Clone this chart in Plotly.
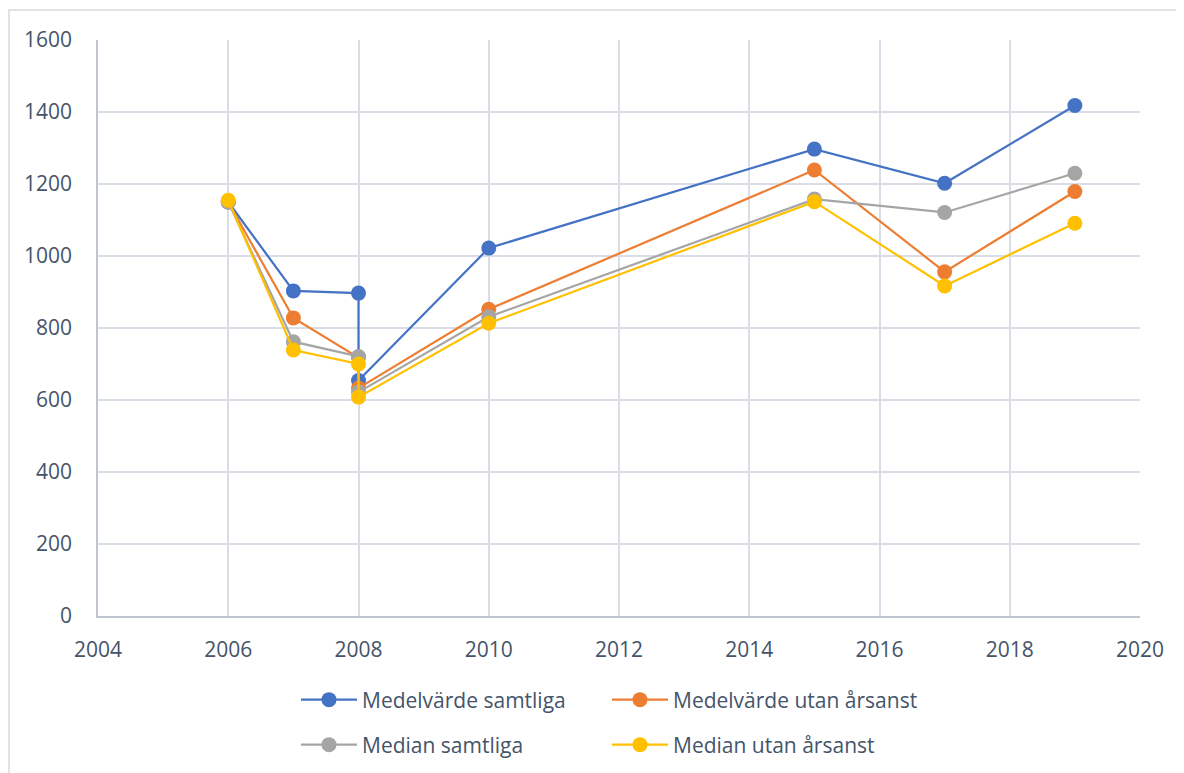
import plotly.graph_objects as go

years = [2006, 2007, 2008, 2008, 2010, 2015, 2017, 2019]
series_names = ["Medelvärde samtliga", "Medelvärde utan årsanst", "Median samtliga", "Median utan årsanst"]
medel_samtliga = [1150, 903, 897, 654, 1022, 1297, 1202, 1418]
medel_utan = [1150, 828, 718, 633, 852, 1239, 956, 1179]
median_samtliga = [1150, 762, 721, 622, 831, 1158, 1121, 1230]
median_utan = [1155, 739, 700, 608, 813, 1151, 917, 1091]
colors = ["#4472C4", "#ED7D31", "#A5A5A5", "#FFC000"]

x_ticks = list(range(2004, 2021, 2))
y_ticks = list(range(0, 1601, 200))

# page offset from default body margin (8px)
OFF = 8
W, H = 1184 - OFF, 773 - OFF
L, T, R, B = 98 - OFF, 40 - OFF, 44, 157
PW, PH = W - L - R, H - T - B

def px_x(page_x):
    return (page_x - OFF - L) / PW

def px_y(page_y):
    return (H - B - (page_y - OFF)) / PH

fig = go.Figure()
legends = ["legend", "legend", "legend2", "legend2"]
for name, vals, c, lg in zip(series_names, [medel_samtliga, medel_utan, median_samtliga, median_utan], colors, legends):
    fig.add_trace(go.Scatter(
        x=years, y=vals, name=name, mode="lines+markers",
        line=dict(color=c, width=2.2),
        marker=dict(color=c, size=15),
        legend=lg,
    ))

font_color = "#44546A"
leg_common = dict(
    orientation="h", xanchor="left", yanchor="middle",
    entrywidth=240, entrywidthmode="pixels", itemwidth=56,
    font=dict(size=21, color=font_color), bgcolor="rgba(0,0,0,0)",
)
fig.update_layout(
    width=W, height=H,
    paper_bgcolor="white", plot_bgcolor="white",
    margin=dict(l=L, r=R, t=T, b=B, autoexpand=False),
    font=dict(family="Open Sans", size=21, color=font_color),
    showlegend=True,
    legend=dict(x=px_x(296), y=px_y(700), **leg_common),
    legend2=dict(x=px_x(296), y=px_y(745), **leg_common),
    xaxis=dict(
        range=[2004, 2020], tickvals=x_ticks, ticktext=[str(t) for t in x_ticks],
        showgrid=True, gridcolor="#D9DEE6", gridwidth=1.5,
        showline=True, linecolor="#BFC5CE", linewidth=1.5,
        zeroline=False, ticks="", ticklabelstandoff=14,
        tickfont=dict(size=21, color=font_color),
    ),
    yaxis=dict(
        range=[0, 1600], tickvals=y_ticks,
        showgrid=True, gridcolor="#D9DEE6", gridwidth=1.5,
        showline=True, linecolor="#BFC5CE", linewidth=1.5,
        zeroline=False, ticks="", ticklabelstandoff=20,
        tickfont=dict(size=21, color=font_color),
    ),
)

# outer chart frame
fig.add_shape(type="rect", xref="paper", yref="paper",
              x0=px_x(9), x1=px_x(1210),
              y0=px_y(800), y1=px_y(10),
              line=dict(color="#D9D9D9", width=1.5), fillcolor="rgba(0,0,0,0)", layer="below")

fig.write_html("out.html")
